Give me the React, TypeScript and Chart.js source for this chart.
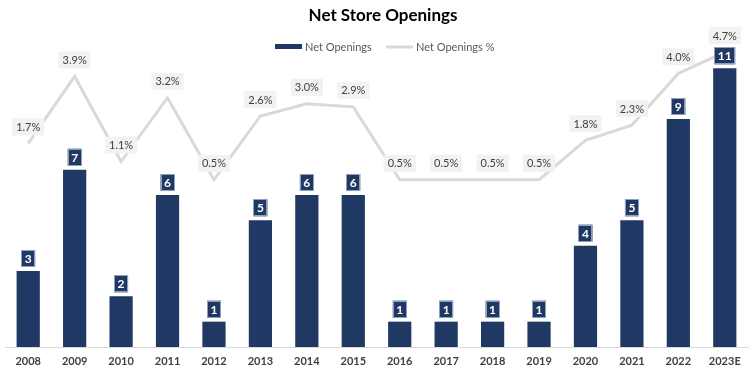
import React, { useEffect, useRef } from "react";
import { Chart, registerables } from "chart.js";

Chart.register(...registerables);

const years = ["2008", "2009", "2010", "2011", "2012", "2013", "2014", "2015", "2016", "2017", "2018", "2019", "2020", "2021", "2022", "2023E"];
const netOpenings = [3, 7, 2, 6, 1, 5, 6, 6, 1, 1, 1, 1, 4, 5, 9, 11];
const netOpeningsPct = [1.7, 3.9, 1.1, 3.2, 0.5, 2.6, 3.0, 2.9, 0.5, 0.5, 0.5, 0.5, 1.8, 2.3, 4.0, 4.7];

const NAVY = "#1F3864";
const GRAY_LINE = "#D9D9D9";
const FONT = "Lato, 'Open Sans', sans-serif";

const labelsPlugin = {
  id: "customLabels",
  afterDraw(chart: any) {
    const ctx = chart.ctx;
    ctx.save();
    // title
    ctx.fillStyle = "#000000";
    ctx.font = `bold 17px ${FONT}`;
    ctx.textAlign = "center";
    ctx.textBaseline = "middle";
    ctx.fillText("Net Store Openings", 383, 16);

    // legend
    ctx.font = `11px ${FONT}`;
    ctx.textAlign = "left";
    ctx.fillStyle = NAVY;
    ctx.fillRect(275, 44, 27, 5);
    ctx.fillStyle = "#595959";
    ctx.fillText(chart.data.datasets[0].label, 305, 47);
    ctx.strokeStyle = GRAY_LINE;
    ctx.lineWidth = 3;
    ctx.beginPath();
    ctx.moveTo(386, 47);
    ctx.lineTo(413, 47);
    ctx.stroke();
    ctx.fillStyle = "#595959";
    ctx.fillText(chart.data.datasets[1].label, 416, 47);

    // line labels
    const lineMeta = chart.getDatasetMeta(1);
    ctx.font = `11px ${FONT}`;
    ctx.textAlign = "center";
    lineMeta.data.forEach((pt: any, i: number) => {
      const txt = netOpeningsPct[i].toFixed(1) + "%";
      const w = ctx.measureText(txt).width + 8;
      const h = 17;
      const bottom = pt.y - 8;
      ctx.fillStyle = "#F2F2F2";
      ctx.fillRect(pt.x - w / 2, bottom - h, w, h);
      ctx.fillStyle = "#404040";
      ctx.fillText(txt, pt.x, bottom - h / 2 + 0.5);
    });

    // bar labels
    const barMeta = chart.getDatasetMeta(0);
    ctx.font = `bold 12px ${FONT}`;
    barMeta.data.forEach((bar: any, i: number) => {
      const txt = String(netOpenings[i]);
      const w = ctx.measureText(txt).width + 7;
      const h = 17;
      const bottom = bar.y - 4;
      ctx.fillStyle = NAVY;
      ctx.fillRect(bar.x - w / 2, bottom - h, w, h);
      ctx.strokeStyle = "#8FA0BF";
      ctx.lineWidth = 1;
      ctx.strokeRect(Math.round(bar.x - w / 2) + 0.5, Math.round(bottom - h) + 0.5, Math.round(w) - 1, h - 1);
      ctx.fillStyle = "#FFFFFF";
      ctx.fillText(txt, bar.x, bottom - h / 2 + 0.5);
    });
    ctx.restore();
  },
};

export default function App() {
  const canvasRef = useRef<HTMLCanvasElement | null>(null);

  useEffect(() => {
    document.body.style.margin = "0";
    const canvas = canvasRef.current;
    if (!canvas) return;
    const chart = new Chart(canvas, {
      type: "bar",
      data: {
        labels: years,
        datasets: [
          {
            type: "bar",
            label: "Net Openings",
            data: netOpenings,
            backgroundColor: NAVY,
            yAxisID: "y",
            barPercentage: 0.5,
            categoryPercentage: 1,
            order: 2,
          },
          {
            type: "line",
            label: "Net Openings %",
            data: netOpeningsPct,
            borderColor: GRAY_LINE,
            backgroundColor: GRAY_LINE,
            borderWidth: 3,
            pointRadius: 0,
            tension: 0,
            yAxisID: "y1",
            order: 1,
          },
        ],
      },
      options: {
        responsive: false,
        animation: false,
        devicePixelRatio: 1,
        layout: { padding: { top: 43, left: 5, right: 2, bottom: 0 } },
        plugins: {
          legend: { display: false },
          title: { display: false },
          tooltip: { enabled: false },
        },
        scales: {
          x: {
            grid: { display: false, drawTicks: false },
            border: { display: true, color: GRAY_LINE, width: 1 },
            ticks: {
              color: "#404040",
              font: { family: FONT, size: 11, weight: "bold" },
              padding: 8,
              maxRotation: 0,
              autoSkip: false,
            },
            afterFit: (s: any) => {
              s.height = 24;
            },
          },
          y: { display: false, min: 0, max: 12 },
          y1: { display: false, min: -5, max: 5, position: "right" },
        },
      },
      plugins: [labelsPlugin],
    });
    return () => chart.destroy();
  }, []);

  return (
    <div style={{ width: 750, height: 371, background: "#fff" }}>
      <canvas ref={canvasRef} width={750} height={371} style={{ display: "block" }} />
    </div>
  );
}
